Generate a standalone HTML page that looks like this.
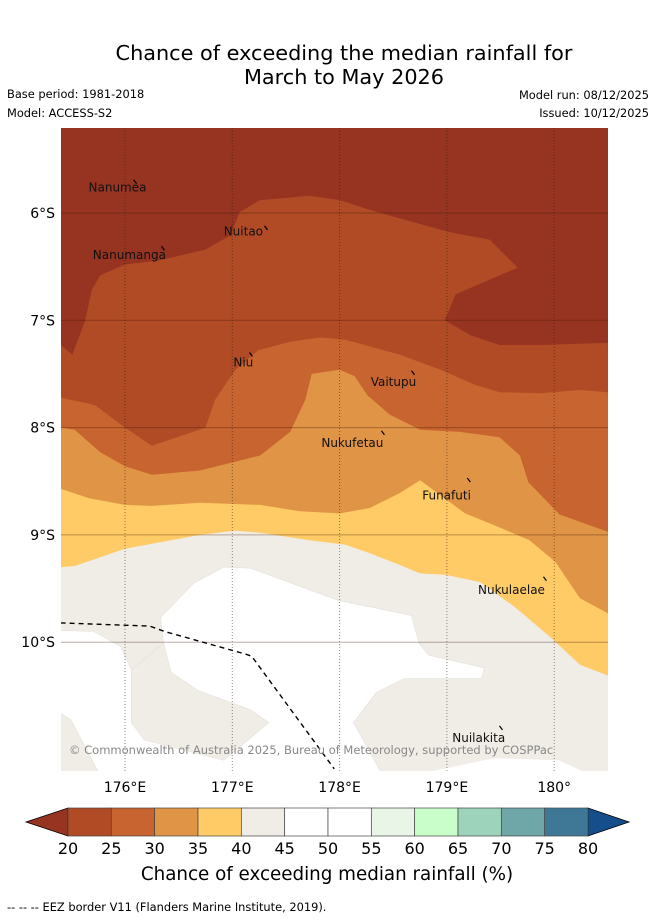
<!DOCTYPE html>
<html><head><meta charset="utf-8">
<style>
html,body{margin:0;padding:0;background:#fff;}
body{width:655px;height:919px;overflow:hidden;font-family:"Liberation Sans","DejaVu Sans",sans-serif;}
</style></head>
<body>
<svg id="chart" width="655" height="919" xmlns="http://www.w3.org/2000/svg" font-family="DejaVu Sans, Liberation Sans, sans-serif">
<text x="344" y="60" font-size="20.8" text-anchor="middle">Chance of exceeding the median rainfall for</text>
<text x="344" y="84" font-size="20.8" text-anchor="middle">March to May 2026</text>
<text x="7" y="98" font-size="11.4">Base period: 1981-2018</text>
<text x="7" y="117" font-size="11.4">Model: ACCESS-S2</text>
<text x="649" y="99" font-size="11.4" text-anchor="end">Model run: 08/12/2025</text>
<text x="649" y="117" font-size="11.4" text-anchor="end">Issued: 10/12/2025</text>
<defs><clipPath id="mapclip"><rect x="61" y="128" width="547" height="643"/></clipPath></defs>
<g id="map" clip-path="url(#mapclip)"></g>
<g id="overlay"></g>
<g id="cbar"></g>
<text x="327" y="880" font-size="18.3" text-anchor="middle">Chance of exceeding median rainfall (%)</text>
<text x="7" y="911" font-size="11.4">--  --  -- EEZ border V11 (Flanders Marine Institute, 2019).</text>
</svg>
<script>
// ---- data (lon °E, lat °S) ----
const lonTicks=[176,177,178,179,180];
const lonTickLabels=["176°E","177°E","178°E","179°E","180°"];
const latTicks=[6,7,8,9,10];
const latTickLabels=["6°S","7°S","8°S","9°S","10°S"];
const bnd25Lon=[175.40,175.51,175.63,175.69,175.77,176.00,176.33,176.75,176.98,177.07,177.26,177.72,178.00,178.28,178.56,179.03,179.40,179.66,179.40,179.08,178.98,179.22,179.49,179.87,180.50];
const bnd25Lat=[7.23,7.32,7.00,6.72,6.58,6.48,6.44,6.34,6.21,5.99,5.88,5.84,5.88,5.97,6.05,6.18,6.25,6.51,6.62,6.76,7.00,7.14,7.23,7.23,7.21];
const bnd30Lon=[175.40,175.72,176.00,176.25,176.75,176.84,177.03,177.24,177.54,177.82,178.05,178.56,178.94,179.26,179.49,179.87,180.24,180.50];
const bnd30Lat=[7.72,7.79,8.00,8.17,8.00,7.74,7.46,7.28,7.20,7.16,7.18,7.32,7.46,7.60,7.67,7.68,7.65,7.67];
const bnd35Lon=[175.40,175.53,175.77,176.00,176.25,176.70,177.26,177.54,177.68,177.74,178.00,178.14,178.26,178.47,178.75,179.12,179.49,179.68,179.76,180.05,180.50];
const bnd35Lat=[8.00,8.02,8.23,8.36,8.44,8.40,8.26,8.04,7.74,7.50,7.46,7.52,7.70,7.88,8.02,8.04,8.09,8.26,8.51,8.81,8.97];
const bnd40Lon=[175.40,175.67,176.00,176.25,176.70,177.26,177.63,178.00,178.28,178.56,178.75,178.94,179.17,179.49,179.77,180.01,180.24,180.50];
const bnd40Lat=[8.57,8.66,8.72,8.73,8.70,8.72,8.78,8.80,8.75,8.61,8.49,8.63,8.80,8.93,9.05,9.25,9.59,9.73];
const bnd45Lon=[175.40,175.53,176.00,176.70,177.03,177.26,177.72,178.05,178.28,178.56,178.75,178.98,179.31,179.63,179.96,180.24,180.50];
const bnd45Lat=[9.30,9.29,9.13,9.00,8.96,8.98,9.05,9.09,9.17,9.28,9.36,9.37,9.44,9.67,9.95,10.21,10.31];
const white1Lon=[176.33,176.64,176.92,177.17,177.99,178.67,178.74,178.83,179.35,179.32,178.60,178.34,178.13,178.39,178.39,175.80,175.50,175.40,175.40,175.71,175.96,176.06,176.36];
const white1Lat=[9.77,9.45,9.30,9.31,9.61,9.75,10.01,10.12,10.24,10.34,10.34,10.47,10.75,11.22,11.30,11.30,10.73,10.66,9.89,9.90,10.04,10.26,10.01];
const beigePatchLon=[176.36,176.06,176.06,176.18,176.92,177.34,177.17,176.68,176.43];
const beigePatchLat=[10.01,10.26,10.75,10.91,11.10,10.75,10.63,10.45,10.28];
const white2Lon=[178.82,179.44,180.04,180.28,180.28,178.82];
const white2Lat=[11.21,11.08,11.10,11.21,11.30,11.30];
const eezLon=[175.40,176.23,176.37,177.12,177.18,177.95];
const eezLat=[9.82,9.85,9.90,10.11,10.13,11.18];
const placeNames=["Nanumea","Nuitao","Nanumanga","Niu","Vaitupu","Nukufetau","Funafuti","Nukulaelae","Nuilakita"];
const placeLon=[175.66,176.92,175.70,177.01,178.29,177.83,178.77,179.29,179.05];
const placeLat=[5.80,6.21,6.43,7.43,7.61,8.18,8.67,9.55,10.93];
const islandLon=[176.08,177.30,176.34,177.16,178.67,178.39,179.19,179.90,179.49];
const islandLat=[5.69,6.12,6.31,7.30,7.47,8.03,8.47,9.39,10.78];
const cbarLevels=[20,25,30,35,40,45,50,55,60,65,70,75,80];
const cbarColors=["#b04b25","#c8642f","#e09445","#fecb66","#f0ece6","#ffffff","#ffffff","#e9f5e6","#c9fdc9","#9dd2bb","#6fa6a7","#3f7896"];
const cbarUnder="#963421", cbarOver="#154e8a";
// ---- axes ----
const X=lon=>125+(lon-176)*107.3;
const Y=s=>213+(s-6)*107.3;
const NS="http://www.w3.org/2000/svg";
const map=document.getElementById('map'), ov=document.getElementById('overlay'), cb=document.getElementById('cbar');
function mk(tag,attrs,parent){const e=document.createElementNS(NS,tag);for(const k in attrs)e.setAttribute(k,attrs[k]);parent.appendChild(e);return e;}
function pts(lons,lats){return lons.map((l,i)=>X(l).toFixed(1)+','+Y(lats[i]).toFixed(1)).join(' ');}
function below(lons,lats){return pts(lons,lats)+' '+X(180.6)+','+Y(11.4)+' '+X(175.3)+','+Y(11.4);}
let e;
e=mk('rect',{x:61,y:128,width:547,height:643,fill:'#963421'},map);


const layers=[[bnd25Lon,bnd25Lat,'#b04b25','region-25-30'],[bnd30Lon,bnd30Lat,'#c8642f','region-30-35'],[bnd35Lon,bnd35Lat,'#e09445','region-35-40'],[bnd40Lon,bnd40Lat,'#fecb66','region-40-45'],[bnd45Lon,bnd45Lat,'#f0ece6','region-45-50']];
layers.forEach(L=>{
  e=mk('polygon',{points:below(L[0],L[1]),fill:L[2]},map);
  
  
});
e=mk('polygon',{points:pts(white1Lon,white1Lat),fill:'#ffffff',stroke:'#e4e0da','stroke-width':0.6},map);


e=mk('polygon',{points:pts(beigePatchLon,beigePatchLat),fill:'#f0ece6',stroke:'#e4e0da','stroke-width':0.6},map);


e=mk('polygon',{points:pts(white2Lon,white2Lat),fill:'#ffffff'},map);


// gridlines
latTicks.forEach((t,i)=>{
  e=mk('line',{x1:61,x2:608,y1:Y(t),y2:Y(t),stroke:'rgba(60,20,10,0.35)','stroke-width':1},map);
  
  
  e=mk('text',{x:55,y:Y(t)+5,'font-size':14,'text-anchor':'end'},ov);
  e.textContent=latTickLabels[i];
  
  
});
lonTicks.forEach((t,i)=>{
  e=mk('line',{x1:X(t),x2:X(t),y1:128,y2:771,stroke:'rgba(40,20,10,0.5)','stroke-width':1,'stroke-dasharray':'1,2'},map);
  
  
  e=mk('text',{x:X(t),y:792,'font-size':14,'text-anchor':'middle'},ov);
  e.textContent=lonTickLabels[i];
  
  
});
e=mk('polyline',{points:pts(eezLon,eezLat),fill:'none',stroke:'#000','stroke-width':1.4,'stroke-dasharray':'5,4'},map);


placeNames.forEach((n,i)=>{
  e=mk('text',{x:X(placeLon[i]),y:Y(placeLat[i]),'font-size':12,fill:'#111'},map);
  e.textContent=n;
  
  
  e=mk('line',{x1:X(islandLon[i]),y1:Y(islandLat[i]),x2:X(islandLon[i])+3,y2:Y(islandLat[i])+4,stroke:'#000','stroke-width':1.2},map);
  
  
});
e=mk('text',{x:69,y:754,'font-size':11.5,fill:'#888'},map);
e.textContent='© Commonwealth of Australia 2025, Bureau of Meteorology, supported by COSPPac';


// colorbar
const cbx0=68,cbx1=588,cby=808,cbh=28;
const CX=v=>cbx0+(v-cbarLevels[0])/(cbarLevels[cbarLevels.length-1]-cbarLevels[0])*(cbx1-cbx0);
e=mk('polygon',{points:`26,${cby+cbh/2} ${cbx0},${cby} ${cbx0},${cby+cbh}`,fill:cbarUnder,stroke:'#000','stroke-width':0.8},cb);


e=mk('polygon',{points:`629,${cby+cbh/2} ${cbx1},${cby} ${cbx1},${cby+cbh}`,fill:cbarOver,stroke:'#000','stroke-width':0.8},cb);


cbarColors.forEach((c,i)=>{
  e=mk('rect',{x:CX(cbarLevels[i]),y:cby,width:CX(cbarLevels[i+1])-CX(cbarLevels[i]),height:cbh,fill:c,stroke:'#444','stroke-width':0.7},cb);
  
  
});
cbarLevels.forEach(v=>{
  e=mk('text',{x:CX(v),y:854,'font-size':16,'text-anchor':'middle'},cb);
  e.textContent=v;
  
  
});
</script>
</body></html>
